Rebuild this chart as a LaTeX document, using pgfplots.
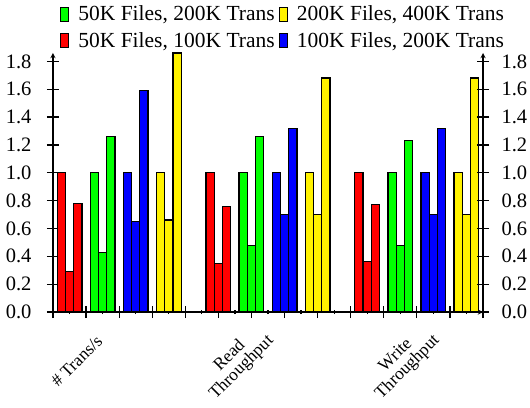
\documentclass[border=0pt]{standalone}
\usepackage{fontspec}
\setmainfont{Liberation Serif}
\usepackage{pgfplots}
\pgfplotsset{compat=1.18}

\pgfplotsset{
  base/.style={
    width=430pt, height=259pt, scale only axis,
    xmin=-0.5, xmax=12.5, ymin=0, ymax=1.86,
    ytick={0,0.2,...,1.8},
    yticklabel style={font=\fontsize{20.5}{20.5}\selectfont,
      /pgf/number format/fixed, /pgf/number format/fixed zerofill,
      /pgf/number format/precision=1, /pgf/number format/assume math mode=true},
    tick align=outside,
    major tick length=12pt,
    minor tick length=4pt,
    axis line style={line width=1.3pt, -},
    every tick/.style={black, line width=1.3pt},
  },
  % 0.25 x-units wide: 430pt / 13 * 0.25
  mybar/.style={ybar, bar width=8.27pt, bar shift=0pt, draw=black, line width=1.2pt,
    legend image code/.code={
      \draw[##1, draw=black, line width=1.2pt] (0pt,-7pt) rectangle (8pt,7pt);
      \path (15pt,0pt);}},
}

\begin{document}
\begin{tikzpicture}
\begin{axis}[base, name=ax,
    axis x line=bottom, axis y line=left,
    yticklabel style={xshift=-12pt},
    xtick={-0.5,0.5,...,12.5}, xticklabels={},
    minor xtick={0,1,...,12},
    extra x ticks={1.13,6.32,11.34},
    extra x tick labels={\raisebox{-10pt}[12pt][4pt]{\# Trans/s}, Read\\Throughput, Write\\Throughput},
    extra x tick style={major tick length=0pt,
      xticklabel style={font=\fontsize{17.5}{17}\selectfont,
        xshift=-11pt, yshift=-18pt, rotate=45, anchor=east, align=center}},
    legend style={at={(axis description cs:0,1)}, anchor=south west, xshift=4pt,
      draw=none, fill=none,
      font=\fontsize{21.5}{21.5}\selectfont, row sep=6pt,
      /tikz/every even column/.append style={column sep=2pt}},
    legend columns=2,
  ]
  \addplot[mybar, fill=green] coordinates {
    (0.75,1.0) (1,0.43) (1.25,1.26)
    (5.25,1.0) (5.5,0.48) (5.75,1.26)
    (9.75,1.0) (10,0.475) (10.25,1.23)};
  \addlegendentry{50K Files, 200K Trans}
  \addplot[mybar, fill=yellow] coordinates {
    (2.75,1.0) (3,0.66) (3.25,1.86)
    (7.25,1.0) (7.5,0.70) (7.75,1.68)
    (11.75,1.0) (12,0.70) (12.25,1.68)};
  \addlegendentry{200K Files, 400K Trans}
  \addplot[mybar, fill=red] coordinates {
    (-0.25,1.0) (0,0.29) (0.25,0.78)
    (4.25,1.0) (4.5,0.35) (4.75,0.76)
    (8.75,1.0) (9,0.36) (9.25,0.77)};
  \addlegendentry{50K Files, 100K Trans}
  \addplot[mybar, fill=blue] coordinates {
    (1.75,1.0) (2,0.65) (2.25,1.59)
    (6.25,1.0) (6.5,0.70) (6.75,1.32)
    (10.75,1.0) (11,0.70) (11.25,1.32)};
  \addlegendentry{100K Files, 200K Trans}
\end{axis}
\begin{axis}[base,
    axis x line=none, axis y line=right,
    yticklabel style={xshift=9pt},
  ]
  \addplot[draw=none] coordinates {(0,0)};
\end{axis}
\pgfresetboundingbox
\path ([shift={(-53pt,-95pt)}]ax.south west) rectangle ([shift={(47pt,53pt)}]ax.north east);
\end{tikzpicture}
\end{document}
